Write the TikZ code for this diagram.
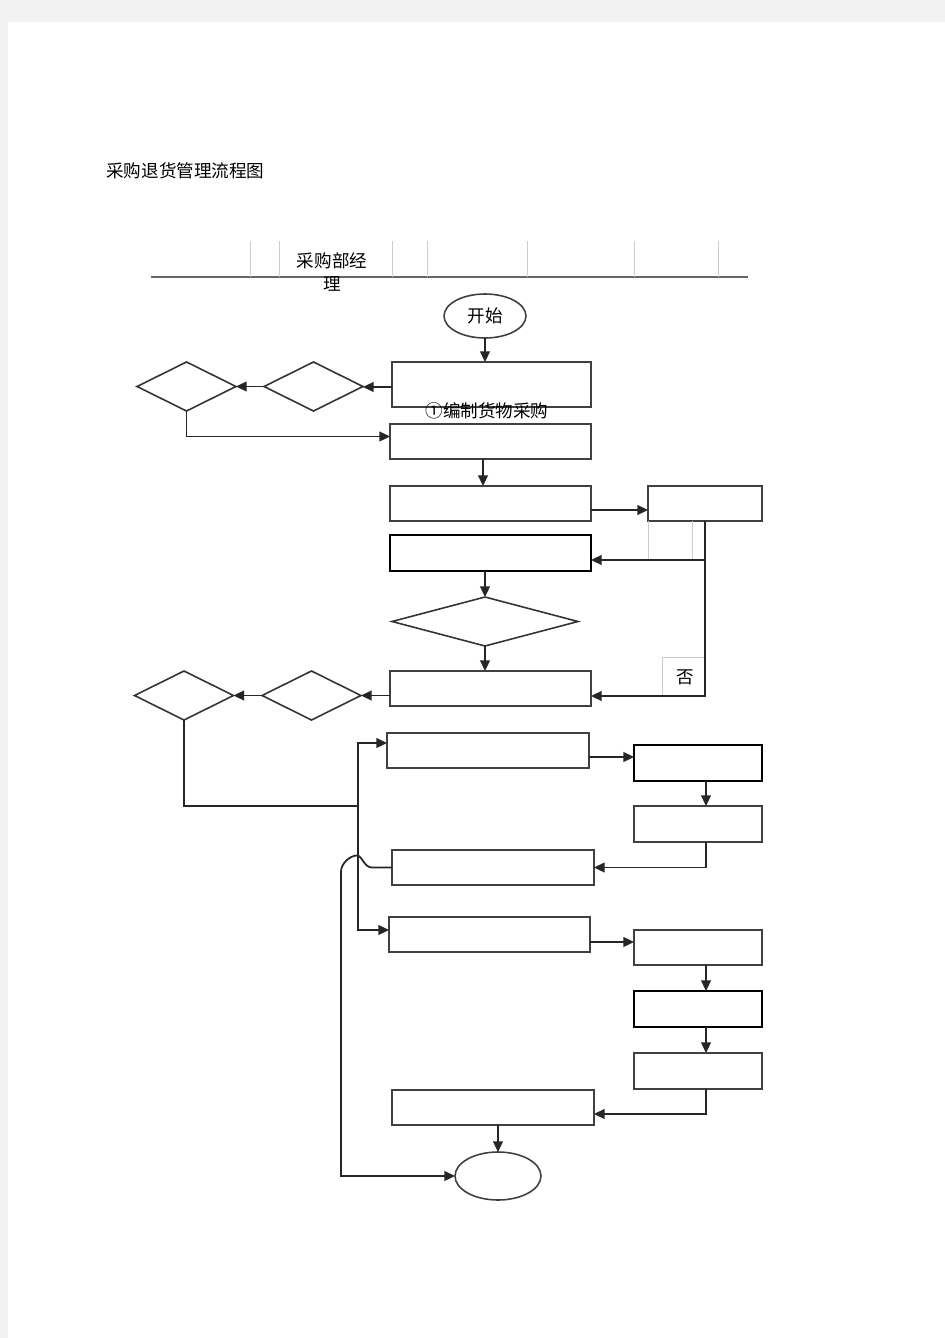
\documentclass[tikz,border=0pt]{standalone}
\usepackage{fontspec}
\setmainfont{Noto Sans CJK SC}
\usetikzlibrary{positioning, arrows.meta, shapes.geometric}

\tikzset{
  line/.style={draw=black!85, line width=1pt},
  arr/.style={line, -{Triangle[length=6pt, width=5.5pt]}},
  box/.style={draw=black!75, line width=0.9pt, rectangle, outer sep=0pt, inner sep=0pt},
  boxb/.style={box, draw=black, line width=1.3pt},
  dia/.style={draw=black!80, line width=0.9pt, diamond, outer sep=0pt, inner sep=0pt, minimum width=1.98cm, minimum height=0.98cm},
  oval/.style={draw=black!75, line width=0.9pt, ellipse, outer sep=0pt, inner sep=0pt},
  faint/.style={draw=black!20, line width=0.5pt},
  txt/.style={font=\fontsize{10}{13.6}\selectfont, inner sep=0pt}
}

\begin{document}
\begin{tikzpicture}[x=0.02cm, y=-0.02cm]
% page
\useasboundingbox (0,0) rectangle (945,1338);
\fill[black!5] (0,0) rectangle (945,1338);
\fill[white] (8,22) rectangle (945,1338);

% title
\node[txt, anchor=west] (title) at (106,171) {采购退货管理流程图};

% header row
\draw[line, draw=black!60] (151,277) -- (748,277);
\foreach \hx in {250,279,392,427,527,634,718}
  \draw[faint] (\hx,241) -- (\hx,277);
\node[txt, align=center] (head) at (332,272) {采购部经\\理};

% start
\node[oval, minimum width=1.64cm, minimum height=0.88cm, txt] (start) at (485,316) {开始};

% first block
\node[box, minimum width=3.98cm, minimum height=0.9cm] (box1) at (491.5,384.5) {};
\node[txt] (lab1) at (487,411) {①编制货物采购};
\node[box, minimum width=4.02cm, minimum height=0.7cm] (box2) at (490.5,441.5) {};
\node[dia] (d1) at (313.5,386.5) {};
\node[dia] (d2) at (186.5,386.5) {};

\draw[arr] (start.south) -- (start.south |- box1.north);
\draw[arr] ([yshift=-0.05cm]box1.west) -- ([yshift=-0.05cm]box1.west -| d1.east);
\draw[arr] (d1.west) -- (d2.east);
\draw[arr] (d2.south) |- ([yshift=0.1cm]box2.west);

% second block
\node[box, minimum width=4.02cm, minimum height=0.7cm] (box3) at (490.5,503.5) {};
\node[box, minimum width=2.28cm, minimum height=0.7cm] (box4) at (705,503.5) {};
\node[boxb, minimum width=4.02cm, minimum height=0.72cm] (box5) at (490.5,553) {};
\node[dia, minimum width=3.72cm] (d3) at (485,621.5) {};
\node[box, minimum width=4.02cm, minimum height=0.7cm] (box6) at (490.5,688.5) {};
\node[dia] (d4) at (311.5,695.5) {};
\node[dia] (d5) at (184,695.5) {};

\draw[faint] (648,521) -- (648,560);
\draw[faint] (692,521) -- (692,560);
\draw[faint] (662,696) |- (705,657);
\node[txt] (no) at (685,677) {否};

\draw[arr] ([xshift=-0.15cm]box2.south) -- ([xshift=-0.15cm]box3.north);
\draw[arr] ([yshift=-0.13cm]box3.east) -- ([yshift=-0.13cm]box3.east -| box4.west);
\draw[arr] (box4.south) |- ([yshift=-0.14cm]box5.east);
\draw[arr] (box4.south) |- ([yshift=-0.15cm]box6.east);
\draw[arr] (d3.north |- box5.south) -- (d3.north);
\draw[arr] (d3.south) -- (d3.south |- box6.north);
\draw[arr] ([yshift=-0.14cm]box6.west) -- ([yshift=-0.14cm]box6.west -| d4.east);
\draw[arr] (d4.west) -- (d5.east);

% third block
\coordinate (split) at (358,806);
\node[box, minimum width=4.04cm, minimum height=0.7cm] (box7) at (488,750.5) {};
\node[boxb, minimum width=2.56cm, minimum height=0.72cm] (r1) at (698,763) {};
\node[box, minimum width=2.56cm, minimum height=0.72cm] (r2) at (698,824) {};
\node[box, minimum width=4.04cm, minimum height=0.7cm] (box8) at (493,867.5) {};
\node[box, minimum width=4.02cm, minimum height=0.7cm] (box9) at (489.5,934.5) {};
\node[box, minimum width=2.56cm, minimum height=0.7cm] (r3) at (698,947.5) {};
\node[boxb, minimum width=2.56cm, minimum height=0.72cm] (r4) at (698,1009) {};
\node[box, minimum width=2.56cm, minimum height=0.72cm] (r5) at (698,1071) {};
\node[box, minimum width=4.04cm, minimum height=0.7cm] (box10) at (493,1107.5) {};
\node[oval, minimum width=1.72cm, minimum height=0.96cm] (end) at (498,1176) {};

\draw[line] (d5.south) |- (split);
\draw[arr] (split) |- ([yshift=0.15cm]box7.west);
\draw[arr] (split) |- ([yshift=0.09cm]box9.west);
\draw[arr] ([yshift=-0.13cm]box7.east) -- ([yshift=-0.13cm]box7.east -| r1.west);
\draw[arr] ([xshift=0.16cm]r1.south) -- ([xshift=0.16cm]r2.north);
\draw[arr] ([xshift=0.16cm]r2.south) |- (box8.east);
\draw[arr] ([yshift=-0.15cm]box9.east) -- ([yshift=-0.15cm]box9.east -| r3.west);
\draw[arr] ([xshift=0.16cm]r3.south) -- ([xshift=0.16cm]r4.north);
\draw[arr] ([xshift=0.16cm]r4.south) -- ([xshift=0.16cm]r5.north);
\draw[arr] ([xshift=0.16cm]r5.south) |- ([yshift=-0.13cm]box10.east);
\draw[arr] (end.north |- box10.south) -- (end.north);
% hop over the split line
\draw[arr] (box8.west) -- ++(-20,0) .. controls +(-8,0) and +(5,0) .. ++(-15,-12)
  .. controls +(-7,0) and +(0,-8) .. ++(-16,16) |- (end.west);
\end{tikzpicture}
\end{document}
